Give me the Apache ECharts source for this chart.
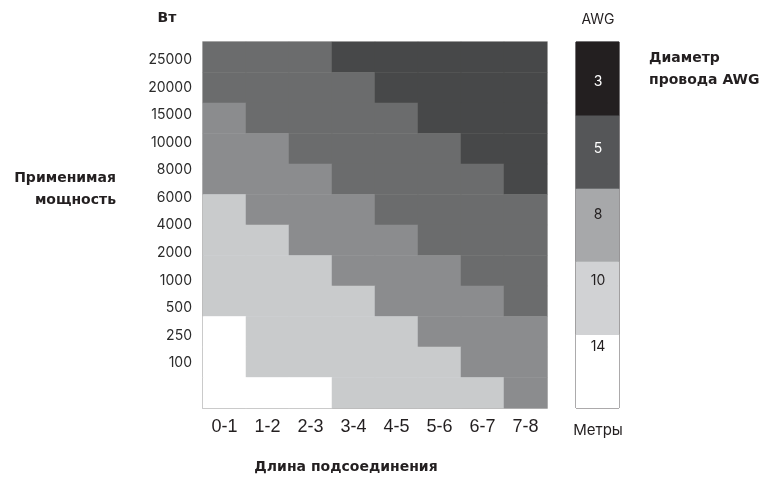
<!DOCTYPE html>
<html><head><meta charset="utf-8">
<script src="https://cdn.jsdelivr.net/npm/echarts@6/dist/echarts.min.js"></script>
<style>html,body{margin:0;padding:0;background:#fff}#c{width:767px;height:479px}</style>
</head><body><div id="c"></div>
<script>
// X categories: connection length, metres
const lengths = ['0-1','1-2','2-3','3-4','4-5','5-6','6-7','7-8'];
// Y tick labels: power, W (bottom to top)
const powerTicks = ['100','250','500','1000','2000','4000','6000','8000','10000','15000','20000','25000'];
// AWG wire gauge per row, top row (25000 W) to bottom row (100 W), one value per length column
const awgRows = [
  [5,5,5,3,3,3,3,3],
  [5,5,5,5,3,3,3,3],
  [8,5,5,5,5,3,3,3],
  [8,8,5,5,5,5,3,3],
  [8,8,8,5,5,5,5,3],
  [10,8,8,8,5,5,5,5],
  [10,10,8,8,8,5,5,5],
  [10,10,10,8,8,8,5,5],
  [10,10,10,10,8,8,8,5],
  [14,10,10,10,10,8,8,8],
  [14,10,10,10,10,10,8,8],
  [14,14,14,10,10,10,10,8]
];
// legend levels
const awgLevels = [3,5,8,10,14];
const heatColors = ['#474849','#6b6c6d','#8b8c8e','#c9cbcc','#ffffff'];
const legendColors = ['#231f20','#555658','#a7a8aa','#d1d2d4','#ffffff'];

const FONT = 'Inter';
const BOLD = 'DejaVu Sans';
const nRows = awgRows.length;
const heatData = [];
awgRows.forEach((row, r) => row.forEach((v, c) => heatData.push([c, nRows - 1 - r, v])));
const legendCats = awgLevels.slice().reverse().map(String);
const legendData = legendCats.map((v, i) => [0, i, Number(v)]);

const chart = echarts.init(document.getElementById('c'), null, {renderer:'canvas'});
chart.setOption({
  animation: false,
  backgroundColor: '#fff',
  textStyle: {fontFamily: FONT},
  grid: [
    {left:203, top:42, width:344, height:366, show:true, borderColor:'#a2a2a2', borderWidth:1.5, backgroundColor:'transparent'},
    {left:203, top:46, width:344, height:331},
    {left:576, top:42, width:43, height:366, show:true, borderColor:'#231f20', borderWidth:1},
    {left:598, top:49, width:1, height:331}
  ],
  xAxis: [
    {gridIndex:0, type:'category', data:lengths, axisLine:{show:false}, axisTick:{show:false},
     axisLabel:{fontSize:18, margin:10, color:'#231f20', fontFamily:'Liberation Sans'}, splitLine:{show:false}},
    {gridIndex:1, type:'category', data:lengths, show:false},
    {gridIndex:2, type:'category', data:['AWG'], show:false},
    {gridIndex:3, type:'category', data:['AWG'], show:false}
  ],
  yAxis: [
    {gridIndex:0, type:'category', data:powerTicks, show:false},
    {gridIndex:1, type:'category', data:powerTicks, axisLine:{show:false}, axisTick:{show:false},
     axisLabel:{fontSize:14, margin:11, color:'#2b2b2b', fontFamily:FONT}, splitLine:{show:false}},
    {gridIndex:2, type:'category', data:legendCats, show:false},
    {gridIndex:3, type:'category', data:legendCats, z:20, axisLine:{show:false}, axisTick:{show:false},
     axisLabel:{fontSize:14, margin:0, align:'center', fontFamily:FONT,
       color:(v) => (Number(v) <= 5 ? '#ffffff' : '#231f20')}, splitLine:{show:false}}
  ],
  visualMap: [
    {type:'piecewise', show:false, seriesIndex:0, dimension:2,
     pieces: awgLevels.map((v,i) => ({value:v, color:heatColors[i]}))},
    {type:'piecewise', show:false, seriesIndex:1, dimension:2,
     pieces: awgLevels.map((v,i) => ({value:v, color:legendColors[i]}))}
  ],
  series: [
    {type:'heatmap', xAxisIndex:0, yAxisIndex:0, data:heatData, emphasis:{disabled:true}, z:1},
    {type:'heatmap', xAxisIndex:2, yAxisIndex:2, data:legendData, emphasis:{disabled:true}, z:1}
  ],
  graphic: [
    {type:'text', x:167, y:18, style:{text:'Вт', fontSize:14, fontWeight:'bold', fontFamily:BOLD, fill:'#231f20', align:'center', verticalAlign:'middle'}},
    {type:'text', x:116, y:189, style:{text:'Применимая\nмощность', fontSize:14, fontWeight:'bold', fontFamily:BOLD, fill:'#231f20', align:'right', verticalAlign:'middle', lineHeight:22}},
    {type:'text', x:346, y:467, style:{text:'Длина подсоединения', fontSize:14, fontWeight:'bold', fontFamily:BOLD, fill:'#231f20', align:'center', verticalAlign:'middle'}},
    {type:'text', x:598, y:20, style:{text:'AWG', fontSize:14, fontFamily:FONT, fill:'#231f20', align:'center', verticalAlign:'middle'}},
    {type:'text', x:598, y:430, style:{text:'Метры', fontSize:15, fontFamily:FONT, fill:'#231f20', align:'center', verticalAlign:'middle'}},
    {type:'text', x:649, y:69, style:{text:'Диаметр\nпровода AWG', fontSize:14, fontWeight:'bold', fontFamily:BOLD, fill:'#231f20', align:'left', verticalAlign:'middle', lineHeight:22}}
  ]
});
</script>
</body></html>
